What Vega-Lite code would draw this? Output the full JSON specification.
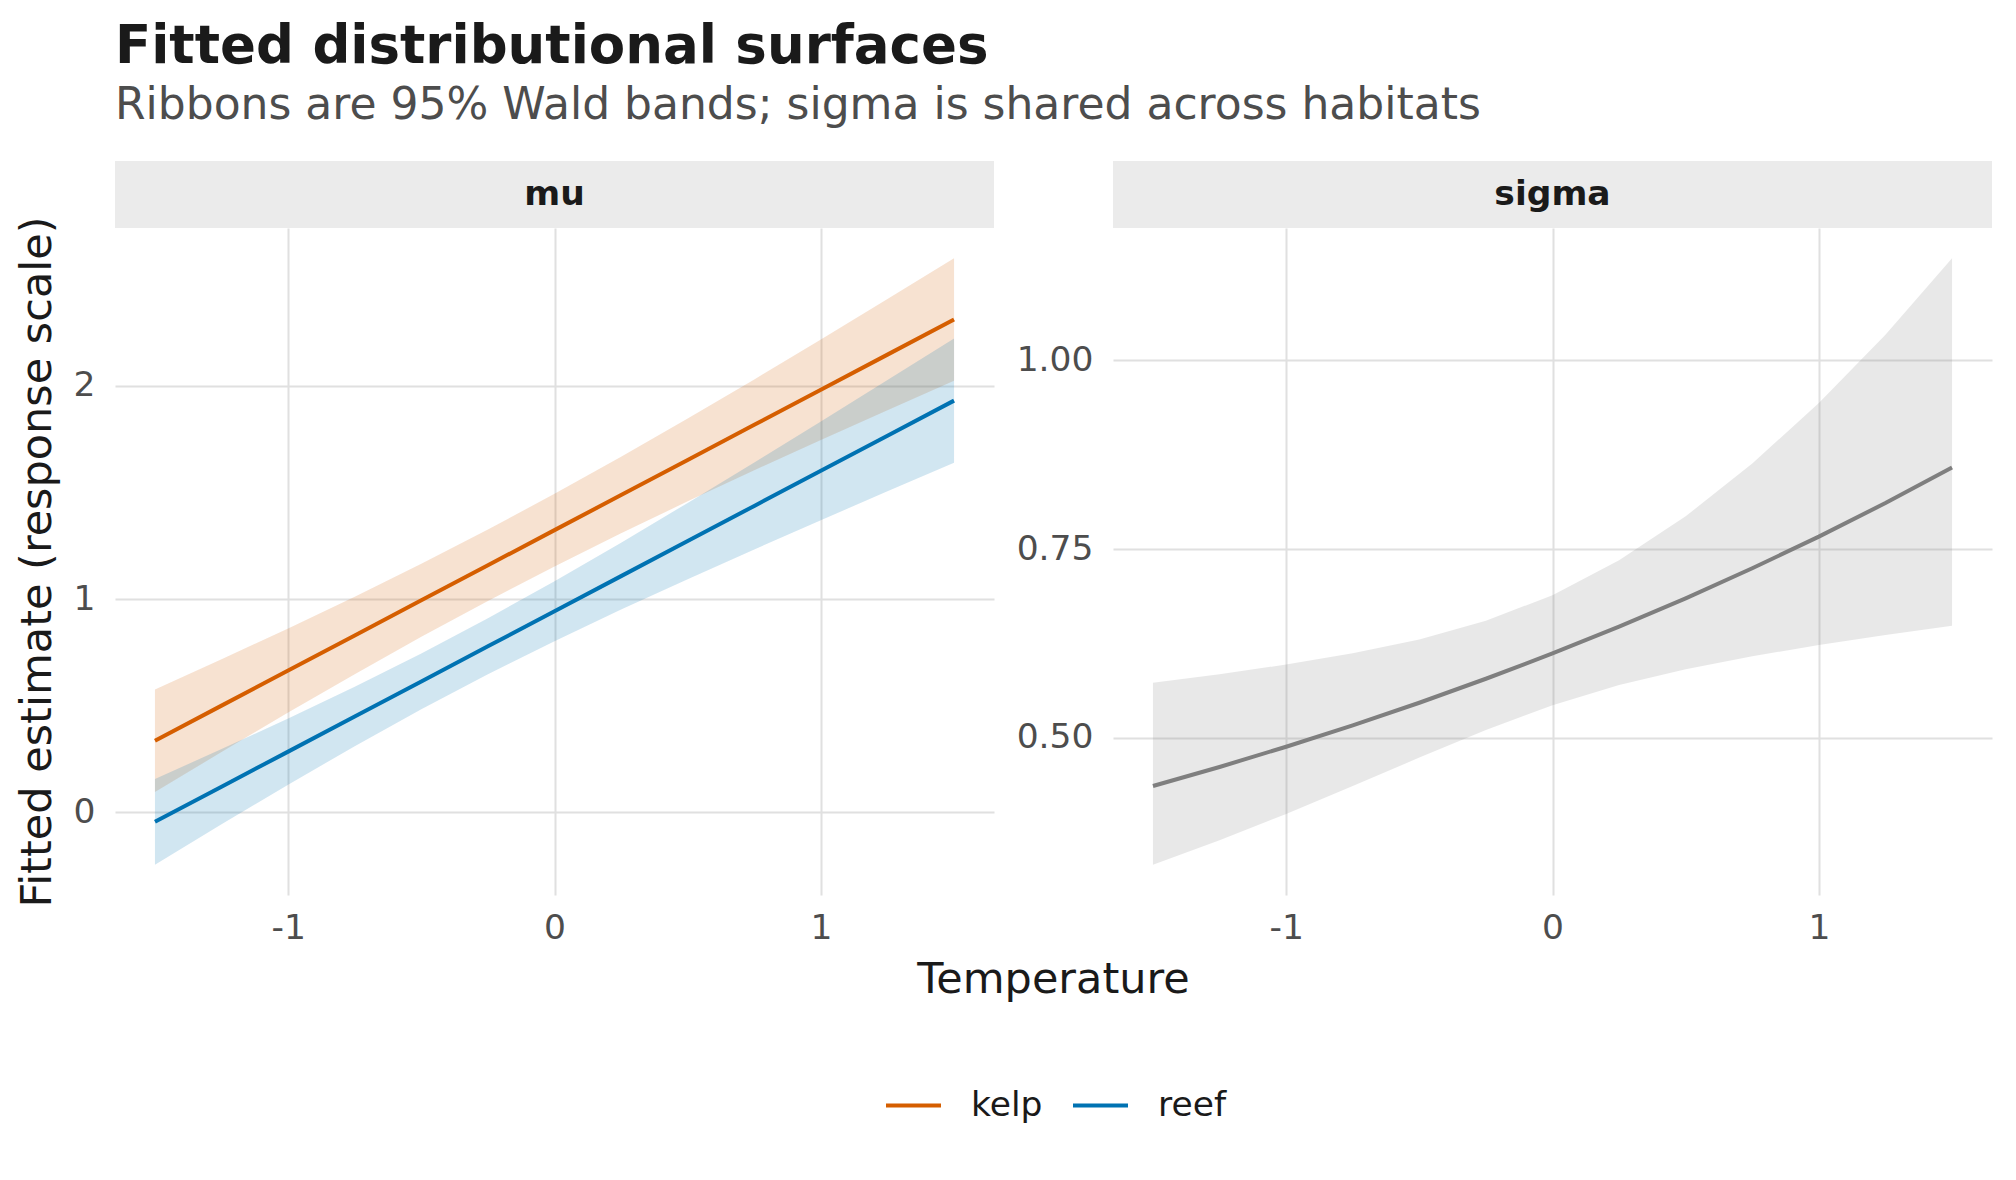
{
  "$schema": "https://vega.github.io/schema/vega-lite/v6.json",
  "padding": {"left": 16, "top": 21, "right": 20, "bottom": 20},
  "background": "white",
  "title": {
    "text": "Fitted distributional surfaces",
    "subtitle": "Ribbons are 95% Wald bands; sigma is shared across habitats",
    "anchor": "start",
    "frame": "group",
    "font": "DejaVu Sans",
    "subtitleFont": "DejaVu Sans",
    "fontSize": 53,
    "fontWeight": "bold",
    "color": "#1A1A1A",
    "subtitleFontSize": 44,
    "subtitleColor": "#4D4D4D",
    "subtitlePadding": 10,
    "offset": 33
  },
  "datasets": {
    "mu": [
      {"x": -1.5, "habitat": "kelp", "est": 0.336, "lo": 0.096, "hi": 0.576},
      {"x": -1.25, "habitat": "kelp", "est": 0.5005, "lo": 0.283, "hi": 0.718},
      {"x": -1.0, "habitat": "kelp", "est": 0.665, "lo": 0.468, "hi": 0.862},
      {"x": -0.75, "habitat": "kelp", "est": 0.8295, "lo": 0.648, "hi": 1.011},
      {"x": -0.5, "habitat": "kelp", "est": 0.994, "lo": 0.823, "hi": 1.165},
      {"x": -0.25, "habitat": "kelp", "est": 1.1585, "lo": 0.991, "hi": 1.326},
      {"x": 0.0, "habitat": "kelp", "est": 1.323, "lo": 1.153, "hi": 1.493},
      {"x": 0.25, "habitat": "kelp", "est": 1.4875, "lo": 1.308, "hi": 1.667},
      {"x": 0.5, "habitat": "kelp", "est": 1.652, "lo": 1.458, "hi": 1.846},
      {"x": 0.75, "habitat": "kelp", "est": 1.8165, "lo": 1.6035, "hi": 2.0295},
      {"x": 1.0, "habitat": "kelp", "est": 1.981, "lo": 1.7455, "hi": 2.2165},
      {"x": 1.25, "habitat": "kelp", "est": 2.1455, "lo": 1.885, "hi": 2.406},
      {"x": 1.5, "habitat": "kelp", "est": 2.31, "lo": 2.023, "hi": 2.597},
      {"x": -1.5, "habitat": "reef", "est": -0.044, "lo": -0.245, "hi": 0.157},
      {"x": -1.25, "habitat": "reef", "est": 0.1205, "lo": -0.0557, "hi": 0.2967},
      {"x": -1.0, "habitat": "reef", "est": 0.285, "lo": 0.13, "hi": 0.44},
      {"x": -0.75, "habitat": "reef", "est": 0.4495, "lo": 0.3103, "hi": 0.5887},
      {"x": -0.5, "habitat": "reef", "est": 0.614, "lo": 0.483, "hi": 0.745},
      {"x": -0.25, "habitat": "reef", "est": 0.7785, "lo": 0.647, "hi": 0.91},
      {"x": 0.0, "habitat": "reef", "est": 0.943, "lo": 0.8025, "hi": 1.0835},
      {"x": 0.25, "habitat": "reef", "est": 1.1075, "lo": 0.9506, "hi": 1.2644},
      {"x": 0.5, "habitat": "reef", "est": 1.272, "lo": 1.0934, "hi": 1.4506},
      {"x": 0.75, "habitat": "reef", "est": 1.4365, "lo": 1.2327, "hi": 1.6403},
      {"x": 1.0, "habitat": "reef", "est": 1.601, "lo": 1.3696, "hi": 1.8324},
      {"x": 1.25, "habitat": "reef", "est": 1.7655, "lo": 1.5048, "hi": 2.0262},
      {"x": 1.5, "habitat": "reef", "est": 1.93, "lo": 1.639, "hi": 2.221}
    ],
    "sigma": [
      {"x": -1.5, "est": 0.436, "lo": 0.3318, "hi": 0.5729},
      {"x": -1.25, "est": 0.4613, "lo": 0.3643, "hi": 0.5843},
      {"x": -1.0, "est": 0.4881, "lo": 0.3991, "hi": 0.597},
      {"x": -0.75, "est": 0.5164, "lo": 0.4359, "hi": 0.6119},
      {"x": -0.5, "est": 0.5464, "lo": 0.4737, "hi": 0.6303},
      {"x": -0.25, "est": 0.5782, "lo": 0.5103, "hi": 0.655},
      {"x": 0.0, "est": 0.6117, "lo": 0.5431, "hi": 0.689},
      {"x": 0.25, "est": 0.6472, "lo": 0.5698, "hi": 0.7352},
      {"x": 0.5, "est": 0.6848, "lo": 0.5909, "hi": 0.7935},
      {"x": 0.75, "est": 0.7246, "lo": 0.6081, "hi": 0.8634},
      {"x": 1.0, "est": 0.7666, "lo": 0.6228, "hi": 0.9436},
      {"x": 1.25, "est": 0.8111, "lo": 0.6361, "hi": 1.0342},
      {"x": 1.5, "est": 0.8581, "lo": 0.6486, "hi": 1.1354}
    ],
    "strips": [
      {"panel": "mu"},
      {"panel": "sigma"}
    ]
  },
  "spacing": -12,
  "vconcat": [
    {
      "spacing": 119,
      "bounds": "flush",
      "hconcat": [
        {
          "width": 879,
          "height": 67,
          "view": {"fill": "#EBEBEB", "stroke": null},
          "data": {"name": "strips"},
          "transform": [{"filter": "datum.panel === 'mu'"}],
          "mark": {"type": "text", "font": "DejaVu Sans", "fontSize": 34.5, "fontWeight": "bold", "color": "#1A1A1A", "baseline": "middle", "align": "center"},
          "encoding": {"text": {"field": "panel"}}
        },
        {
          "width": 879,
          "height": 67,
          "view": {"fill": "#EBEBEB", "stroke": null},
          "data": {"name": "strips"},
          "transform": [{"filter": "datum.panel === 'sigma'"}],
          "mark": {"type": "text", "font": "DejaVu Sans", "fontSize": 34.5, "fontWeight": "bold", "color": "#1A1A1A", "baseline": "middle", "align": "center"},
          "encoding": {"text": {"field": "panel"}}
        }
      ]
    },
    {
      "spacing": 119,
      "bounds": "flush",
      "resolve": {"scale": {"x": "independent", "y": "independent"}},
      "hconcat": [
        {
          "width": 879,
          "height": 667,
          "data": {"name": "mu"},
          "layer": [
            {
              "mark": {"type": "area", "opacity": 0.18},
              "encoding": {
                "x": {"field": "x", "type": "quantitative", "scale": {"domain": [-1.65, 1.65], "nice": false, "zero": false},
                  "axis": {"values": [-1, 0, 1], "labelExpr": "'' + datum.value", "title": "Temperature", "titleX": 938, "titleY": 63, "titleAlign": "center", "titleBaseline": "top", "titleAnchor": null}},
                "y": {"field": "lo", "type": "quantitative", "stack": null, "scale": {"domain": [-0.387, 2.739], "nice": false, "zero": false},
                  "axis": {"values": [0, 1, 2], "format": "d", "title": "Fitted estimate (response scale)", "titlePadding": 14}},
                "y2": {"field": "hi"},
                "fill": {"field": "habitat", "type": "nominal", "scale": {"range": ["#D55E00", "#0072B2"]}, "legend": null}
              }
            },
            {
              "mark": {"type": "line", "strokeWidth": 4},
              "encoding": {
                "x": {"field": "x", "type": "quantitative"},
                "y": {"field": "est", "type": "quantitative"},
                "stroke": {"field": "habitat", "type": "nominal", "scale": {"domain": ["kelp", "reef"], "range": ["#D55E00", "#0072B2"]},
                  "legend": {"title": null, "orient": "none", "legendX": 769, "legendY": 915, "direction": "horizontal", "symbolType": "stroke", "symbolSize": 3025, "symbolStrokeWidth": 4, "labelFontSize": 34.5, "labelFont": "DejaVu Sans", "labelColor": "#1A1A1A", "labelOffset": 28, "columnPadding": 22}}
              }
            }
          ]
        },
        {
          "width": 879,
          "height": 667,
          "data": {"name": "sigma"},
          "layer": [
            {
              "mark": {"type": "area", "opacity": 0.18, "color": "#7F7F7F"},
              "encoding": {
                "x": {"field": "x", "type": "quantitative", "scale": {"domain": [-1.65, 1.65], "nice": false, "zero": false},
                  "axis": {"values": [-1, 0, 1], "labelExpr": "'' + datum.value", "title": null}},
                "y": {"field": "lo", "type": "quantitative", "stack": null, "scale": {"domain": [0.2916, 1.1756], "nice": false, "zero": false},
                  "axis": {"values": [0.5, 0.75, 1.0], "format": ".2f", "title": null}},
                "y2": {"field": "hi"}
              }
            },
            {
              "mark": {"type": "line", "strokeWidth": 4, "color": "#7F7F7F"},
              "encoding": {
                "x": {"field": "x", "type": "quantitative"},
                "y": {"field": "est", "type": "quantitative"}
              }
            }
          ]
        }
      ]
    }
  ],
  "config": {
    "font": "DejaVu Sans",
    "view": {"stroke": null},
    "axis": {
      "domain": false,
      "ticks": false,
      "grid": true,
      "gridColor": "#E0E0E0",
      "gridWidth": 2,
      "labelFont": "DejaVu Sans",
      "labelFontSize": 34.5,
      "labelColor": "#4D4D4D",
      "labelPadding": 20,
      "titleFont": "DejaVu Sans",
      "titleFontSize": 43,
      "titleFontWeight": "normal",
      "titleColor": "#1A1A1A"
    },
    "axisX": {"labelPadding": 16}
  }
}
